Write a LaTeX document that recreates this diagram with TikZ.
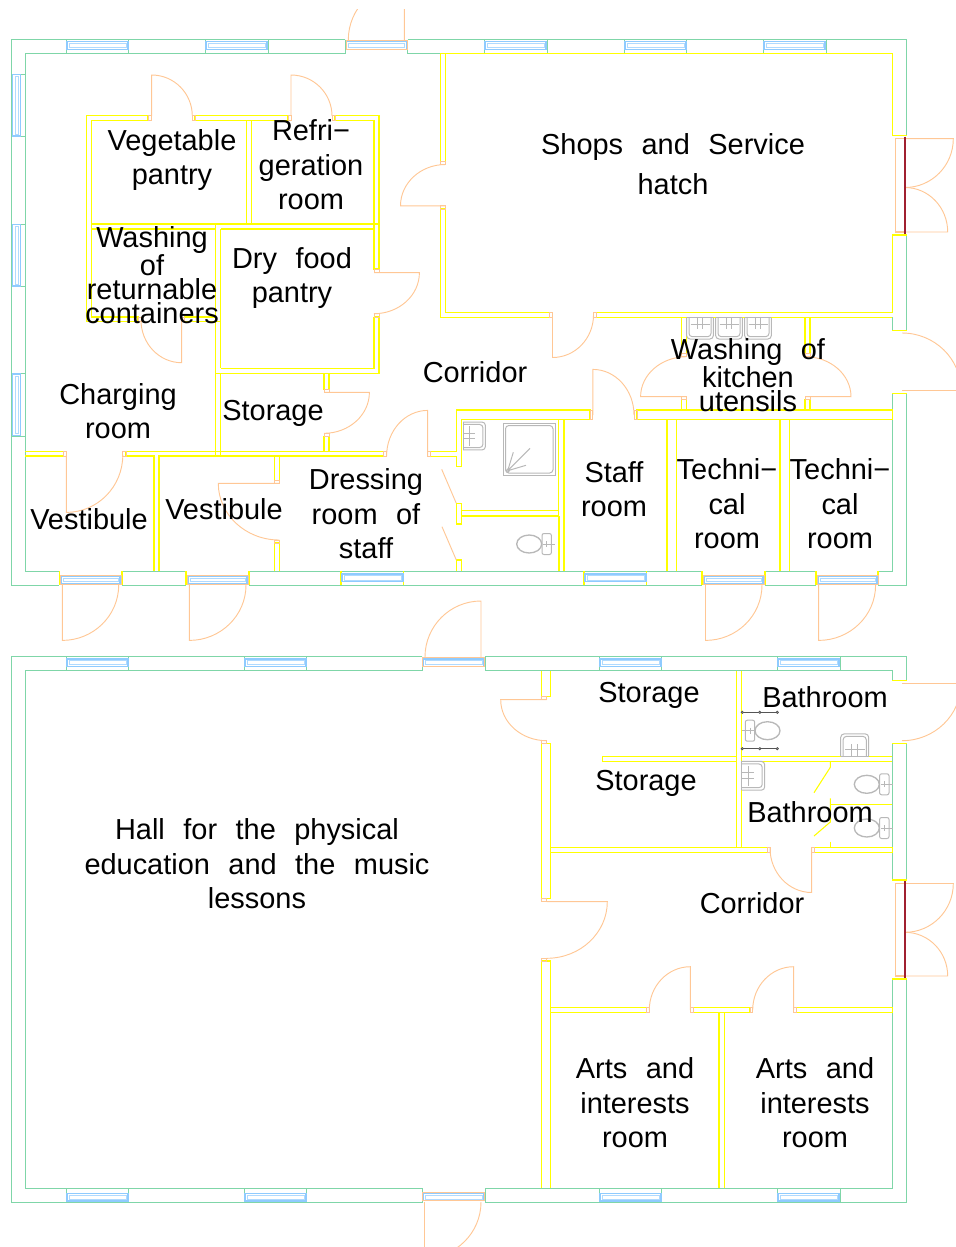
\documentclass[tikz,border=0pt]{standalone}
\usepackage{fontspec}
\setmainfont[WordSpace=2.3]{Liberation Sans}
\usetikzlibrary{calc}
\definecolor{wallgreen}{HTML}{7FD6A8}
\definecolor{wallyellow}{HTML}{FFFF00}
\definecolor{doororange}{HTML}{FFC795}
\definecolor{winblue}{HTML}{8FCBFF}
\definecolor{fixgray}{HTML}{B8B8B8}
\definecolor{railgray}{HTML}{555555}
\definecolor{leafred}{HTML}{A02030}
\tikzset{
  wg/.style={draw=wallgreen,line width=0.75pt},
  wy/.style={draw=wallyellow,line width=0.8pt,line join=miter},
  wybold/.style={draw=wallyellow,line width=1.3pt},
  dr/.style={draw=doororange,line width=0.7pt},
  win/.style={draw=winblue,line width=0.8pt},
  fx/.style={draw=fixgray,line width=0.75pt},
  fxrail/.style={draw=railgray,line width=0.6pt},
  lab/.style={inner sep=0pt,align=center,text=black,font=\fontsize{21.7}{25.9}\selectfont},
  labtight/.style={inner sep=0pt,align=center,text=black,font=\fontsize{21.7}{18}\selectfont},
  labwide/.style={inner sep=0pt,align=center,text=black,font=\fontsize{21.7}{30}\selectfont},
}
% hinge, leaf end, jamb
\newcommand{\doorleaf}[3]{\draw[dr] (#1) -- (#2) .. controls ($(#2)+0.5523*(#3)-0.5523*(#1)$) and ($(#3)+0.5523*(#2)-0.5523*(#1)$) .. (#3);}
\newcommand{\jamb}[2]{\draw[dr] (#1) rectangle (#2);}
\newcommand{\winrect}[6]{\draw[win] (#1,#2) rectangle (#3,#4);
  \draw[win,line width=0.5pt,draw opacity=0.7] ($(#1,#2)+(#5,#6)$) rectangle ($(#3,#4)-(#5,#6)$);}
\newcommand{\hwin}[4]{\winrect{#1}{#3}{#2}{#4}{2}{1.8}}
\newcommand{\vwin}[4]{\winrect{#1}{#3}{#2}{#4}{2.2}{2}}
\newcommand{\toilet}[3]{\begin{scope}[shift={(#1,#2)},xscale=#3]
  \draw[fx,rounded corners=1.5] (-4.7,-10.5) rectangle (4.7,10.5);
  \draw[fx,line width=1pt] (-17.5,0) ellipse [x radius=12.5,y radius=9];
  \draw[fx,line width=0.6pt] (-3.5,0) -- (8.5,0) (0,-3) -- (0,3);
\end{scope}}
\newcommand{\sinkunit}[4]{\begin{scope}[shift={(#1,#2)},rotate=#3,scale=#4]
  \draw[fx,rounded corners=2.5] (-13.3,0) -- (-13.3,21.3) -- (13.3,21.3) -- (13.3,0);
  \draw[fx,line width=0.6pt] (-13.3,0) -- (13.3,0);
  \draw[fx,rounded corners=2.5] (-11,0) -- (-11,19) -- (11,19) -- (11,0);
  \draw[fx,line width=0.7pt] (-9.5,6.5) -- (9.5,6.5) (-2.8,0) -- (-2.8,11.5) (2.8,0) -- (2.8,11.5);
\end{scope}}
\newcommand{\rail}[3]{\draw[fxrail] (#1,#3) -- (#2,#3);
  \foreach \rx in {#1,#2,\fpeval{(#1+#2)/2}} {\draw[fxrail,fill=white] (\rx,#3) circle [radius=1.1];}}
\newcommand{\ydrop}[3]{\draw[wy] (#1,#2) -- (#1,#3);}
\begin{document}
\begin{tikzpicture}[x=0.75pt,y=-0.75pt]
\useasboundingbox (0,0) rectangle (956,1247);
\clip (0,9.5) rectangle (956,1247);

% ===== upper building: outer walls =====
\draw[wg] (345.3,39.7) -- (11,39.7) -- (11,585) -- (59.3,585);
\draw[wg] (122,585) -- (186,585) (249,585) -- (702,585) (765,585) -- (816,585) (878,585) -- (906.7,585) -- (906.7,393.3);
\draw[wg] (906.7,330.7) -- (906.7,235);
\draw[wg] (906.7,135.7) -- (906.7,39.7) -- (407.5,39.7);
\draw[wg] (345.3,39.7) -- (345.3,53.5) -- (25,53.5) -- (25,571) -- (59.3,571);
\draw[wg] (407.5,39.7) -- (407.5,53.5) -- (440.7,53.5);
\draw[wg] (122,571) -- (186,571) (249,571) -- (702,571) (765,571) -- (816,571) (878,571) -- (892.3,571) -- (892.3,393.3);
\draw[wg] (892.3,330.7) -- (892.3,317.3);
\foreach \wx in {66.3,128.7,205.5,268,484.5,547,624,686.5,763.5,826}
  {\draw[wg] (\wx,39.7) -- (\wx,53.5);}
\foreach \wy in {74,136.5,224,286.5,373.5,436}
  {\draw[wg] (11,\wy) -- (25,\wy);}
\foreach \wx in {59.3,122,186,249,341,403.5,584,646.5,702,765,816,878}
  {\draw[wy] (\wx,571) -- (\wx,585);}

% ===== upper building: windows =====
\foreach \wx in {67,206,485,625,764}
  {\hwin{\wx}{\fpeval{\wx+61}}{41.7}{49.3}}
\foreach \wy in {74.5,224.5,374}
  {\vwin{12.7}{20.7}{\wy}{\fpeval{\wy+61.5}}}
\hwin{346.5}{406.5}{41.7}{49.3}
\draw[dr] (346,40.7) rectangle (407,49.3);
\foreach \wx in {61,188,704,818}
  {\hwin{\wx}{\fpeval{\wx+59}}{576.7}{583.3}
   \draw[dr] (\fpeval{\wx-1},575.3) rectangle (\fpeval{\wx+60},584.3);}
\hwin{342}{403}{574}{581.7}
\hwin{585}{646}{574}{581.7}

% ===== upper building: inner walls =====
\draw[wy] (148,120.3) -- (148,115.7) -- (86.7,115.7) -- (86.7,321.7) -- (138,321.7) -- (138,317) -- (91.7,317) -- (91.7,120.3) -- cycle;
\draw[wy] (195,115.7) rectangle (288,120.3);
\draw[wy] (335,120.3) -- (335,115.7) -- (379,115.7) -- (379,269) -- (374,269) -- (374,120.3) -- cycle;
\draw[wy] (246.7,120.3) -- (246.7,224) (251.7,120.3) -- (251.7,224);
\draw[wy] (91.7,224) -- (379,224) (91.7,229) -- (215.7,229) (220.7,229) -- (374,229);
\draw[wy] (215.7,224) -- (215.7,456) (220.7,229) -- (220.7,368.3) (220.7,373.3) -- (220.7,456);
\draw[wy] (215.7,317) -- (184.7,317) -- (184.7,321.7) -- (220.7,321.7);
\draw[wy] (374,317) -- (374,368.3) -- (220.7,368.3);
\draw[wy] (374,317) -- (379,317) -- (379,373.3) -- (215.7,373.3);
\draw[wy] (324,373.3) -- (324,389.3) -- (329,389.3) -- (329,373.3);
\draw[wy] (324,451.3) -- (324,436.3) -- (329,436.3) -- (329,451.3);
\draw[wy] (25,451.3) -- (63.3,451.3) -- (63.3,456) -- (25,456);
\draw[wy] (154,571) -- (154,456) -- (126,456) -- (126,451.3) -- (383.5,451.3) -- (383.5,456) -- (159,456) -- (159,571);
\draw[wy] (274.3,456) -- (274.3,480.3) -- (279.3,480.3) -- (279.3,456);
\draw[wy] (274.3,571) -- (274.3,543) -- (279.3,543) -- (279.3,571);
\draw[wy] (430.7,451.3) -- (456.3,451.3) -- (456.3,410) -- (590,410) -- (590,419.3) -- (461.3,419.3) -- (461.3,466.7) -- (456.3,466.7) -- (456.3,456.3) -- (430.7,456.3) -- cycle;
\draw[wy] (637,410) rectangle (892.3,419.3);
\draw[wy] (456.3,503.3) rectangle (461.3,524);
\draw[wy] (456.3,571) -- (456.3,560) -- (461.3,560) -- (461.3,571);
\draw[wy] (461.3,510.7) -- (558.7,510.7) (461.3,516) -- (558.7,516);
\draw[wy] (558.7,419.3) -- (558.7,516) (564,419.3) -- (564,571);
\draw[wybold] (558.7,516) -- (558.7,571);
\draw[wy] (667,419.3) -- (667,571) (676.6,419.3) -- (676.6,571);
\draw[wy] (780,419.3) -- (780,571) (789.7,419.3) -- (789.7,571);
\draw[wy] (440.7,161.5) -- (445.7,161.5) -- (445.7,53.5);
\draw[wy] (440.7,161.5) -- (440.7,53.5) -- (892.3,53.5) -- (892.3,135.7) -- (906.7,135.7);
\draw[wy] (906.7,235) -- (892.3,235) -- (892.3,312.3) -- (596.5,312.3) -- (596.5,317.3) -- (892.3,317.3);
\draw[wy] (445.7,209) -- (445.7,312.3) -- (549.5,312.3) -- (549.5,317.3) -- (440.7,317.3) -- (440.7,209) -- cycle;
\draw[wy] (681.7,317.3) -- (681.7,353.7) -- (686.7,353.7) -- (686.7,317.3);
\draw[wy] (805,317.3) -- (805,353.7) -- (810,353.7) -- (810,317.3);
\draw[wy] (681.7,410) -- (681.7,399.7) -- (686.7,399.7) -- (686.7,410);
\draw[wy] (805,410) -- (805,399.7) -- (810,399.7) -- (810,410);
\draw[wy] (892.3,330.7) -- (906.7,330.7) (892.3,393.3) -- (906.7,393.3);

% ===== upper building: doors =====
\doorleaf{404.3,40}{404.3,-16.5}{348.3,40}
\doorleaf{151.7,116}{151.7,75}{192.3,116}
\doorleaf{291,116}{291,75}{332,116}
\doorleaf{445.5,205.8}{400.5,205.8}{445.5,164.5}
\doorleaf{374,272.7}{419.4,272.7}{374,313.7}
\doorleaf{181.7,320}{181.7,362.7}{141,320}
\doorleaf{324,392.3}{369.4,392.3}{324,433.3}
\doorleaf{427.7,456}{427.7,410.4}{386.6,456}
\doorleaf{66.3,455}{66.3,512.4}{122.8,455}
\doorleaf{279.3,483.3}{218.3,483.3}{279.3,540}
\doorleaf{62.3,585}{62.3,640.4}{118.7,585}
\doorleaf{189.3,585}{189.3,640.4}{246,585}
\doorleaf{705.5,585}{705.5,640.4}{762,585}
\doorleaf{818.6,585}{818.6,640.4}{875.6,585}
\doorleaf{552.5,315}{552.5,357.5}{593.5,315}
\doorleaf{592.8,415}{592.8,369.4}{634,415}
\doorleaf{686.7,396.7}{640.6,396.7}{686.7,356.7}
\doorleaf{805,396.7}{851,396.7}{805,356.7}
\doorleaf{902,390.5}{961,390.5}{902,333}
\jamb{148,115.7}{151.7,120.3} \jamb{192.3,115.7}{195,120.3}
\jamb{288,115.7}{291,120.3} \jamb{332,115.7}{335,120.3}
\jamb{440.7,161.5}{445.7,164.5} \jamb{440.7,205.8}{445.7,209}
\jamb{374,269}{379,272.7} \jamb{374,313.7}{379,317}
\jamb{138,317}{141,321.7} \jamb{181.7,317}{184.7,321.7}
\jamb{324,389.3}{329,392.3} \jamb{324,433.3}{329,436.3}
\jamb{383.5,451.3}{386.6,456} \jamb{427.7,451.3}{430.7,456.3}
\jamb{63.3,451.3}{66.3,456} \jamb{122.8,451.3}{126,456}
\jamb{274.3,480.3}{279.3,483.3} \jamb{274.3,540}{279.3,543}
\jamb{549.5,312.3}{552.5,317.3} \jamb{593.5,312.3}{596.5,317.3}
\jamb{590,410}{592.8,419.3} \jamb{634,410}{637,419.3}
\jamb{681.7,353.7}{686.7,356.7} \jamb{681.7,396.7}{686.7,399.7}
\jamb{805,353.7}{810,356.7} \jamb{805,396.7}{810,399.7}
\draw[dr] (441.7,469.3) -- (456.3,503.3) (442,526.7) -- (456.3,560);
% upper double door
\draw[dr,line width=1pt] (905,138.7) -- (895.3,138.7) -- (895.3,232) -- (905,232);
\doorleaf{905,138.7}{953.3,138.7}{905,187.5}
\doorleaf{905,232}{947.7,232}{905,187.5}
\draw[draw=leafred,line width=1pt] (905,136.5) -- (905,234);

% ===== upper building: fixtures =====
\draw[fx] (503,423) rectangle (555,475.3);
\draw[fx,rounded corners=2.5] (505.5,425.5) rectangle (553,473);
\draw[fx] (507.7,470.7) circle [radius=1.7];
\draw[fx] (507.7,470.7) -- (530,448.3) (507.7,470.7) -- (513.3,452.3) (507.7,470.7) -- (526,465.3);
\toilet{546.7}{544}{1}
\sinkunit{463}{436}{90}{1.05}
\sinkunit{700}{317.7}{0}{1}
\sinkunit{729}{317.7}{0}{1}
\sinkunit{758}{317.7}{0}{1}

% ===== lower building: outer walls =====
\draw[wg] (422,656.7) -- (11,656.7) -- (11,1202.7) -- (422,1202.7);
\draw[wg] (485,1202.7) -- (906.7,1202.7) -- (906.7,979);
\draw[wg] (906.7,880) -- (906.7,743.3);
\draw[wg] (906.7,680.7) -- (906.7,656.7) -- (485,656.7);
\draw[wg] (422,656.7) -- (422,670.7) -- (25,670.7) -- (25,1188.3) -- (422,1188.3) -- (422,1202.7);
\draw[wg] (485,656.7) -- (485,670.7) -- (892.3,670.7) -- (892.3,680.7);
\draw[wg] (892.3,743.3) -- (892.3,880);
\draw[wg] (892.3,979) -- (892.3,1188.3) -- (485,1188.3) -- (485,1202.7);
\foreach \wx in {66.3,128.7,244,306.5,599.3,661.7,777.3,840}
  {\draw[wg] (\wx,656.7) -- (\wx,670.7) (\wx,1188.3) -- (\wx,1202.7);}
\foreach \wx in {67,245,600,778}
  {\hwin{\wx}{\fpeval{\wx+61}}{659}{666.5}
   \hwin{\wx}{\fpeval{\wx+61}}{1193.3}{1201}}
\hwin{423}{484}{659}{666.5}
\draw[dr] (422.5,657.7) rectangle (484.5,666.3);
\hwin{423}{484}{1193.3}{1200.7}
\draw[dr] (422.5,1192.5) rectangle (484.5,1200.7);

% ===== lower building: inner walls =====
\draw[wy] (541.7,670.7) -- (541.7,696.7) -- (550.7,696.7) -- (550.7,670.7);
\draw[wy] (550.7,898.3) -- (550.7,743.3) -- (541.7,743.3) -- (541.7,898.3) -- cycle;
\draw[wy] (541.7,1188.3) -- (541.7,961) -- (550.7,961) -- (550.7,1188.3);
\draw[wy] (736.7,670.7) -- (736.7,847.3) (741.7,670.7) -- (741.7,847.3);
\draw[wy] (736.7,756.3) -- (602.3,756.3) -- (602.3,761.3) -- (736.7,761.3);
\draw[wy] (741.7,756.3) -- (892.3,756.3) (741.7,761.3) -- (892.3,761.3);
\draw[wy] (550.7,847.3) -- (767.7,847.3) -- (767.7,852.3) -- (550.7,852.3);
\draw[wy] (814.7,847.3) rectangle (892.3,852.3);
\draw[wy] (830.3,761.3) -- (830.3,767.3) -- (814,792.7);
\draw[wy] (830.3,798.3) -- (830.3,822) -- (814,836);
\draw[wy] (830.3,841.7) -- (830.3,847.3);
\draw[wy] (830.3,804.3) -- (892.3,804.3);
\draw[wy] (550.7,1007.7) -- (646.7,1007.7) -- (646.7,1012.3) -- (550.7,1012.3);
\draw[wy] (693.3,1007.7) rectangle (750,1012.3);
\draw[wy] (796.7,1007.7) rectangle (892.3,1012.3);
\draw[wy] (719,1012.3) -- (719,1188.3) (724.3,1012.3) -- (724.3,1188.3);
\draw[wy] (892.3,680.7) -- (906.7,680.7) (892.3,743.3) -- (906.7,743.3);
\draw[wy] (892.3,880) -- (906.7,880) (892.3,979) -- (906.7,979);

% ===== lower building: doors =====
\doorleaf{481,657}{481,601}{425,657}
\doorleaf{424.5,1202}{424.5,1258}{481,1202}
\doorleaf{546.7,699.7}{500.7,699.7}{546.7,740.7}
\doorleaf{546.7,901.7}{607.3,901.7}{546.7,958.3}
\doorleaf{811.7,848}{811.7,892.5}{770,848}
\doorleaf{690.3,1010}{690.3,966.7}{649.3,1010}
\doorleaf{793.7,1010}{793.7,966.7}{752.7,1010}
\doorleaf{902,683.5}{961,683.5}{902,740.7}
\jamb{541.7,696.7}{546.7,699.7} \jamb{541.7,740.7}{546.7,743.3}
\jamb{541.7,898.3}{546.7,901.7} \jamb{541.7,958.3}{546.7,961}
\jamb{767.7,847.3}{770,852.3} \jamb{811.7,847.3}{814.7,852.3}
\jamb{646.7,1007.7}{649.3,1012.3} \jamb{690.3,1007.7}{693.3,1012.3}
\jamb{750,1007.7}{752.7,1012.3} \jamb{793.7,1007.7}{796.7,1012.3}
\draw[dr,line width=1pt] (905,883.5) -- (895.7,883.5) -- (895.7,976) -- (905,976);
\doorleaf{905,883.5}{953.3,883.5}{905,932.3}
\doorleaf{905,976}{947.7,976}{905,932.3}
\draw[draw=leafred,line width=1pt] (905,881) -- (905,978);

% ===== lower building: fixtures =====
\toilet{750}{730.7}{-1}
\toilet{884.3}{784.3}{1}
\toilet{884.3}{828}{1}
\rail{742.3}{777.3}{712.3}
\rail{742.3}{777.3}{748.7}
\sinkunit{854.7}{756.3}{180}{1.05}
\sinkunit{741.7}{775.8}{90}{1.08}

% ===== labels =====
\node[lab] (vegetable) at (172,160) {Vegetable\\pantry};
\node[lab] (refrigeration) at (311,165) {Refri−\\geration\\room};
\node[labtight] (washingret) at (152,275) {Washing\\of\\returnable\\containers};
\node[lab] (dryfood) at (292,278) {Dry food\\pantry};
\node[labwide] (shops) at (673,164) {Shops and Service\\hatch};
\node[lab] (corridorup) at (475,372) {Corridor};
\node[lab] (charging) at (118,411) {Charging\\room};
\node[lab] (storageup) at (273,413) {Storage};
\node[lab] (vestibulea) at (89,519) {Vestibule};
\node[lab] (vestibuleb) at (224,509) {Vestibule};
\node[lab] (dressing) at (366,514) {Dressing\\room of\\staff};
\node[labtight] (washingkit) at (748,375) {Washing of\\kitchen\\utensils};
\node[lab] (staff) at (614,489) {Staff\\room};
\node[lab] (techa) at (727,504) {Techni−\\cal\\room};
\node[lab] (techb) at (840,504) {Techni−\\cal\\room};
\node[lab] (hall) at (257,864) {Hall for the physical\\education and the music\\lessons};
\node[lab] (storagea) at (649,695) {Storage};
\node[lab] (storageb) at (646,783) {Storage};
\node[lab] (batha) at (825,697) {Bathroom};
\node[lab] (bathb) at (810,812) {Bathroom};
\node[lab] (corridorlow) at (752,903) {Corridor};
\node[lab] (artsa) at (635,1103) {Arts and\\interests\\room};
\node[lab] (artsb) at (815,1103) {Arts and\\interests\\room};
\end{tikzpicture}
\end{document}
